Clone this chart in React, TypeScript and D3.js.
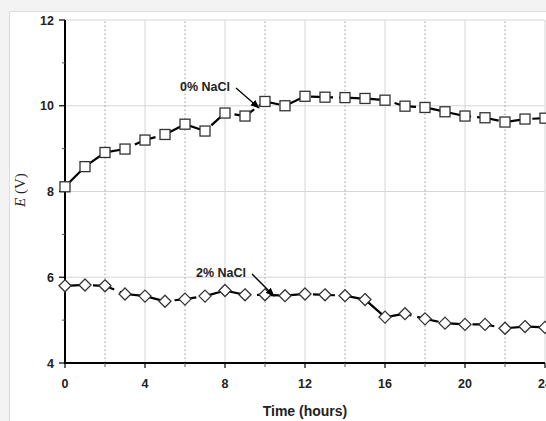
import React from "react";
import * as d3 from "d3";

const hours = [0,1,2,3,4,5,6,7,8,9,10,11,12,13,14,15,16,17,18,19,20,21,22,23,24];
const nacl0 = [8.11,8.58,8.91,8.99,9.2,9.33,9.57,9.41,9.83,9.76,10.1,10.0,10.22,10.2,10.19,10.17,10.13,9.99,9.96,9.86,9.76,9.72,9.62,9.69,9.71];
const nacl2 = [5.8,5.82,5.8,5.61,5.56,5.44,5.49,5.56,5.69,5.59,5.59,5.57,5.61,5.59,5.57,5.48,5.07,5.15,5.03,4.93,4.9,4.9,4.81,4.85,4.83];
const xMajor = [0,4,8,12,16,20,24];
const xMinor = [2,6,10,14,18,22];
const yMajor = [4,6,8,10,12];
const yMinor = [5,7,9,11];

const W = 546, H = 421;
const x = d3.scaleLinear().domain([0, 24]).range([65, 545]);
const y = d3.scaleLinear().domain([4, 12]).range([363, 20]);
const font = "'Liberation Sans', Arial, sans-serif";

export default function App() {
  const line = d3.line<number>().x((_, i) => x(hours[i])).y(d => y(d));
  const diamond = (cx: number, cy: number, r: number) =>
    `M${cx},${cy - r}L${cx + r},${cy}L${cx},${cy + r}L${cx - r},${cy}Z`;
  return (
    <svg width={W} height={H} style={{ position: "absolute", left: 0, top: 0 }}>
      <defs>
        <marker id="arr" viewBox="0 0 10 10" refX="9" refY="5" markerWidth="7" markerHeight="7" orient="auto">
          <path d="M0,1 L10,5 L0,9 Z" fill="#000" />
        </marker>
      </defs>
      <rect x={0} y={0} width={W} height={H} fill="#f3f3f3" />
      <rect x={9.5} y={11.5} width={W} height={H} fill="#fff" stroke="#dcdcdc" />
      {/* grid */}
      {yMajor.map(v => (
        <line key={"gy" + v} x1={x(0)} x2={x(24)} y1={y(v)} y2={y(v)} stroke="#d6d6d6" strokeWidth={1} />
      ))}
      {xMajor.map(v => (
        <line key={"gx" + v} x1={x(v)} x2={x(v)} y1={y(4)} y2={y(12)} stroke="#d6d6d6" strokeWidth={1} />
      ))}
      {xMinor.map(v => (
        <line key={"gm" + v} x1={x(v)} x2={x(v)} y1={y(4)} y2={y(12)} stroke="#999" strokeWidth={1} strokeDasharray="1.5,2.5" />
      ))}
      {/* axes */}
      <line x1={x(0)} x2={x(0)} y1={y(12)} y2={y(4) + 1} stroke="#000" strokeWidth={2} />
      <line x1={x(0) - 1} x2={x(24)} y1={y(4)} y2={y(4)} stroke="#000" strokeWidth={2} />
      {yMajor.map(v => (
        <g key={"ty" + v}>
          <line x1={x(0) - 6} x2={x(0)} y1={y(v)} y2={y(v)} stroke="#000" strokeWidth={1.2} />
          <text x={54} y={y(v) + 4.5} textAnchor="end" fontFamily={font} fontWeight="bold" fontSize={12.5} fill="#222">{v}</text>
        </g>
      ))}
      {yMinor.map(v => (
        <line key={"tym" + v} x1={x(0) - 3} x2={x(0)} y1={y(v)} y2={y(v)} stroke="#555" strokeWidth={1} />
      ))}
      {xMajor.map(v => (
        <g key={"tx" + v}>
          <line x1={x(v)} x2={x(v)} y1={y(4)} y2={y(4) + 5} stroke="#000" strokeWidth={1.2} />
          <text x={x(v)} y={388} textAnchor="middle" fontFamily={font} fontWeight="bold" fontSize={12.5} fill="#222">{v}</text>
        </g>
      ))}
      {xMinor.map(v => (
        <line key={"txm" + v} x1={x(v)} x2={x(v)} y1={y(4)} y2={y(4) + 4} stroke="#555" strokeWidth={1} />
      ))}
      {/* series */}
      <path d={line(nacl0) || ""} fill="none" stroke="#000" strokeWidth={2.2} strokeDasharray="22,6" />
      <path d={line(nacl2) || ""} fill="none" stroke="#000" strokeWidth={2.2} strokeDasharray="22,6" />
      {nacl0.map((v, i) => (
        <rect key={"s" + i} x={x(hours[i]) - 5} y={y(v) - 5} width={10} height={10} fill="#fff" stroke="#333" strokeWidth={1.3} />
      ))}
      {nacl2.map((v, i) => (
        <path key={"d" + i} d={diamond(x(hours[i]), y(v), 6)} fill="#fff" stroke="#333" strokeWidth={1.3} />
      ))}
      {/* annotations */}
      <text x={180} y={91} fontFamily={font} fontWeight="bold" fontSize={12.5} fill="#222">0% NaCl</text>
      <line x1={236} x2={259} y1={88} y2={108} stroke="#000" strokeWidth={1.3} markerEnd="url(#arr)" />
      <text x={196} y={277} fontFamily={font} fontWeight="bold" fontSize={12.5} fill="#222">2% NaCl</text>
      <line x1={252} x2={274} y1={274} y2={296} stroke="#000" strokeWidth={1.3} markerEnd="url(#arr)" />
      {/* axis titles */}
      <text x={305} y={416} textAnchor="middle" fontFamily={font} fontWeight="bold" fontSize={14} fill="#222">Time (hours)</text>
      <text transform="translate(25,190) rotate(-90)" textAnchor="middle" fontFamily="'Liberation Serif', 'Times New Roman', serif" fontSize={15} fill="#222">
        <tspan fontStyle="italic">E</tspan> (V)
      </text>
    </svg>
  );
}
